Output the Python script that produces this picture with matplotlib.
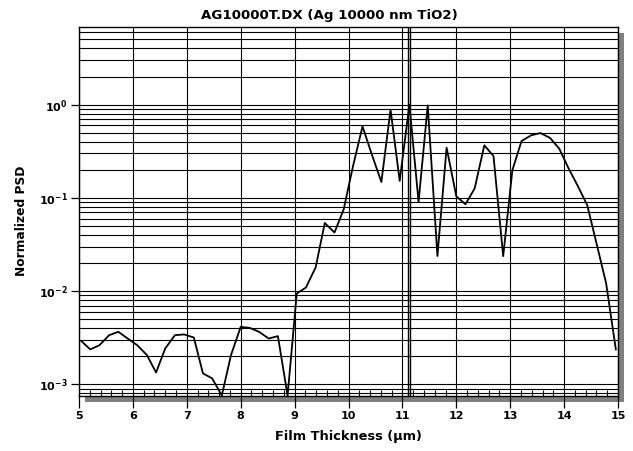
import matplotlib
matplotlib.use("Agg")
import matplotlib.pyplot as plt
import numpy as np
from matplotlib.patches import Rectangle
from matplotlib.ticker import MultipleLocator, LogLocator, NullFormatter

# film thickness (um) and normalized PSD
thickness = [5.04, 5.21, 5.38, 5.56, 5.73, 5.91, 6.08, 6.26, 6.43, 6.60,
             6.78, 6.95, 7.13, 7.30, 7.47, 7.65, 7.82, 8.00, 8.17, 8.34,
             8.52, 8.69, 8.87, 9.04, 9.21, 9.39, 9.56, 9.74, 9.91, 10.08,
             10.26, 10.43, 10.61, 10.78, 10.95, 11.13, 11.30, 11.47, 11.65, 11.82,
             12.00, 12.17, 12.34, 12.52, 12.69, 12.87, 13.04, 13.21, 13.39, 13.56,
             13.74, 13.91, 14.08, 14.26, 14.43, 14.61, 14.78, 14.96]
psd = [0.00292, 0.00237, 0.00263, 0.00337, 0.00366, 0.00308, 0.00263, 0.00206, 0.00134, 0.00243,
       0.00337, 0.00343, 0.00318, 0.00131, 0.00116, 0.00076, 0.00206, 0.00413, 0.00403, 0.00366,
       0.00310, 0.00329, 0.00076, 0.00942, 0.01093, 0.0179, 0.0538, 0.0425, 0.075, 0.214,
       0.585, 0.295, 0.148, 0.884, 0.152, 1.0, 0.0904, 0.98, 0.0238, 0.346,
       0.104, 0.0854, 0.126, 0.366, 0.281, 0.0237, 0.198, 0.407, 0.469, 0.496,
       0.439, 0.337, 0.209, 0.132, 0.0833, 0.031, 0.0121, 0.00237]

# cursor lines near 11.1 um
marker_x = [11.10, 11.14]

y_ticks = [1e-3, 1e-2, 1e-1, 1]
y_labels = [r'$10^{-3}$', r'$10^{-2}$', r'$10^{-1}$', r'$10^{0}$']

plt.rcParams['font.family'] = ['DejaVu Sans']
plt.rcParams['font.weight'] = 'bold'
plt.rcParams['mathtext.fontset'] = 'custom'
plt.rcParams['mathtext.rm'] = 'DejaVu Sans:bold'
plt.rcParams['mathtext.it'] = 'DejaVu Sans:bold'
plt.rcParams['mathtext.bf'] = 'DejaVu Sans:bold'

W, H = 633, 451
fig = plt.figure(figsize=(W / 100, H / 100), dpi=100)
left, right, top, bottom = 79, 618, 27, 396
ax = fig.add_axes([left / W, 1 - bottom / H, (right - left) / W, (bottom - top) / H])
ax.set_zorder(2)

# drop shadow behind the plot area
off = 6
fig.patches.append(Rectangle(((left + off) / W, 1 - (bottom + off) / H),
                             (right - left) / W, (bottom - top) / H,
                             transform=fig.transFigure, facecolor='#808080',
                             edgecolor='none', zorder=0))

ax.plot(thickness, psd, color='black', lw=1.3, zorder=4)
for mx in marker_x:
    ax.axvline(mx, color='black', lw=1.0, zorder=3)

ax.set_yscale('log')
ax.set_xlim(5, 15)
ax.set_ylim(0.00075, 6.8)

ax.set_yticks(y_ticks)
ax.set_yticklabels(y_labels)
ax.yaxis.set_minor_locator(LogLocator(base=10, subs=np.arange(2, 10)))
ax.yaxis.set_minor_formatter(NullFormatter())
ax.xaxis.set_major_locator(MultipleLocator(1))
ax.xaxis.set_minor_locator(MultipleLocator(0.2))

ax.grid(True, which='major', axis='both', color='black', lw=0.8)
ax.grid(True, which='minor', axis='y', color='black', lw=0.8)

ax.tick_params(axis='x', which='major', direction='out', length=8.5, width=0.9,
               labelsize=8, pad=2)
ax.tick_params(axis='x', which='minor', direction='in', length=4.5, width=0.8)
ax.tick_params(axis='y', which='major', direction='out', length=6, width=0.9,
               labelsize=8, pad=2)
ax.tick_params(axis='y', which='minor', direction='in', length=2, width=0.6)
for s in ax.spines.values():
    s.set_linewidth(1.0)

# title sits a little left of the plot centre in the reference
fig.text(329 / W, 1 - 19.5 / H, 'AG10000T.DX (Ag 10000 nm TiO2)', fontsize=9.6,
         fontweight='bold', ha='center', va='baseline')
ax.set_xlabel('Film Thickness (µm)', fontsize=9.3, fontweight='bold', labelpad=7)
ax.set_ylabel('Normalized PSD', fontsize=8.8, fontweight='bold')
ax.yaxis.set_label_coords(-0.095, 0.475)

fig.savefig('out.png', dpi=100)
